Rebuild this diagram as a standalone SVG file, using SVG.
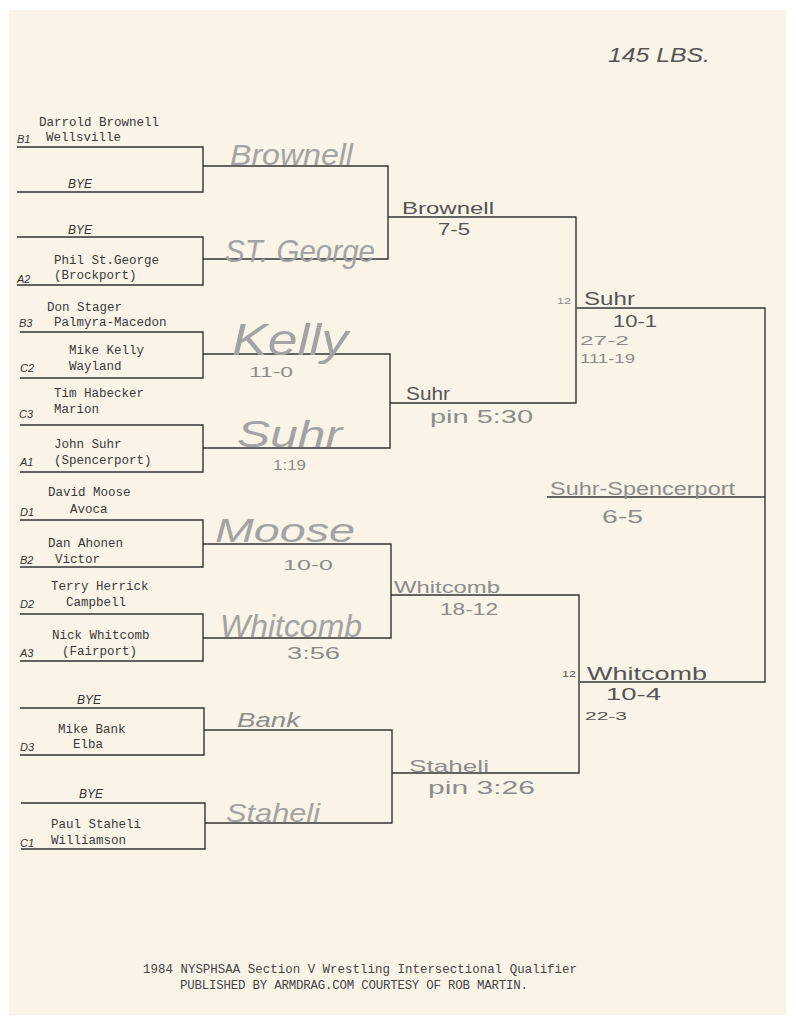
<svg xmlns="http://www.w3.org/2000/svg" width="796" height="1024" viewBox="0 0 796 1024">
<style>
.typed{font-family:"Liberation Mono","Courier New",monospace;font-size:12.5px;fill:#3a3a3a}
.seed{font-family:"Liberation Sans",Arial,sans-serif;font-style:italic;font-size:11px;fill:#333}
.bye{font-family:"Liberation Sans",Arial,sans-serif;font-style:italic;font-size:12px;fill:#333}
.hw{font-family:"Liberation Sans",Arial,sans-serif;fill:#8c8c8c}
.hwl{font-family:"Liberation Sans",Arial,sans-serif;fill:#a3a3a3;font-style:italic}
.hwd{font-family:"Liberation Sans",Arial,sans-serif;fill:#555}
.ln{stroke:#333;stroke-width:1.4;fill:none}
.foot{font-family:"Liberation Mono","Courier New",monospace;font-size:12.4px;fill:#444}
</style>
<rect width="796" height="1024" fill="#ffffff"/>
<rect x="9" y="10" width="777" height="1005" fill="#f9f4e7"/>

<g id="connectors" class="ln">
<path d="M17,147H203V192H17"/>
<path d="M17,237H203V285H17"/>
<path d="M20,332H203V378H20"/>
<path d="M20,425H203V472H20"/>
<path d="M20,520H203V567H20"/>
<path d="M20,614H203V661H20"/>
<path d="M20,708H204V755H20"/>
<path d="M21,803H205V849H21"/>
<path d="M203,166H388V259H203"/>
<path d="M203,354H390V448H203"/>
<path d="M203,544H391V638H203"/>
<path d="M204,730H392V823H205"/>
<path d="M388,217H576V403H390"/>
<path d="M391,595H579V773H392"/>
<path d="M577,308H765V682H580"/>
<path d="M547,497H765"/>
</g>

<g id="weight"><text x="608" y="62" class="hwd" font-size="20" font-style="italic" textLength="102" lengthAdjust="spacingAndGlyphs">145 LBS.</text></g>

<g id="w-b1"><text x="39" y="126" class="typed">Darrold Brownell</text><text x="46" y="141" class="typed">Wellsville</text><text x="17" y="143" class="seed">B1</text></g>
<g id="w-bye1"><text x="68" y="188" class="bye">BYE</text></g>
<g id="w-bye2"><text x="68" y="234" class="bye">BYE</text></g>
<g id="w-a2"><text x="54" y="264" class="typed">Phil St.George</text><text x="54" y="279" class="typed">(Brockport)</text><text x="17" y="283" class="seed">A2</text></g>
<g id="w-b3"><text x="47" y="311" class="typed">Don Stager</text><text x="54" y="326" class="typed">Palmyra-Macedon</text><text x="19" y="327" class="seed">B3</text></g>
<g id="w-c2"><text x="69" y="354" class="typed">Mike Kelly</text><text x="69" y="370" class="typed">Wayland</text><text x="20" y="372" class="seed">C2</text></g>
<g id="w-c3"><text x="54" y="397" class="typed">Tim Habecker</text><text x="54" y="413" class="typed">Marion</text><text x="19" y="418" class="seed">C3</text></g>
<g id="w-a1"><text x="54" y="448" class="typed">John Suhr</text><text x="54" y="464" class="typed">(Spencerport)</text><text x="20" y="466" class="seed">A1</text></g>
<g id="w-d1"><text x="48" y="496" class="typed">David Moose</text><text x="70" y="513" class="typed">Avoca</text><text x="20" y="516" class="seed">D1</text></g>
<g id="w-b2"><text x="48" y="547" class="typed">Dan Ahonen</text><text x="55" y="563" class="typed">Victor</text><text x="20" y="564" class="seed">B2</text></g>
<g id="w-d2"><text x="51" y="590" class="typed">Terry Herrick</text><text x="66" y="606" class="typed">Campbell</text><text x="20" y="608" class="seed">D2</text></g>
<g id="w-a3"><text x="52" y="639" class="typed">Nick Whitcomb</text><text x="62" y="655" class="typed">(Fairport)</text><text x="20" y="657" class="seed">A3</text></g>
<g id="w-bye3"><text x="77" y="704" class="bye">BYE</text></g>
<g id="w-d3"><text x="58" y="733" class="typed">Mike Bank</text><text x="73" y="748" class="typed">Elba</text><text x="20" y="751" class="seed">D3</text></g>
<g id="w-bye4"><text x="79" y="798" class="bye">BYE</text></g>
<g id="w-c1"><text x="51" y="828" class="typed">Paul Staheli</text><text x="51" y="844" class="typed">Williamson</text><text x="20" y="847" class="seed">C1</text></g>

<g id="r2-brownell"><text x="230" y="165" class="hwl" font-size="29" textLength="123" lengthAdjust="spacingAndGlyphs">Brownell</text></g>
<g id="r2-stgeorge"><text x="225" y="262" class="hwl" font-size="32" textLength="150" lengthAdjust="spacingAndGlyphs">ST. George</text></g>
<g id="r2-kelly"><text x="232" y="355" class="hwl" font-size="44" textLength="116" lengthAdjust="spacingAndGlyphs">Kelly</text><text x="249" y="377" class="hw" font-size="14" textLength="44" lengthAdjust="spacingAndGlyphs">11-0</text></g>
<g id="r2-suhr"><text x="237" y="447" class="hwl" font-size="36" textLength="105" lengthAdjust="spacingAndGlyphs">Suhr</text><text x="273" y="470" class="hw" font-size="14" textLength="33" lengthAdjust="spacingAndGlyphs">1:19</text></g>
<g id="r2-moose"><text x="215" y="542" class="hwl" font-size="34" textLength="140" lengthAdjust="spacingAndGlyphs">Moose</text><text x="283" y="570" class="hw" font-size="15" textLength="50" lengthAdjust="spacingAndGlyphs">10-0</text></g>
<g id="r2-whitcomb"><text x="220" y="637" class="hwl" font-size="32" textLength="142" lengthAdjust="spacingAndGlyphs">Whitcomb</text><text x="287" y="659" class="hw" font-size="17" textLength="53" lengthAdjust="spacingAndGlyphs">3:56</text></g>
<g id="r2-bank"><text x="237" y="727" class="hw" font-size="21" font-style="italic" textLength="63" lengthAdjust="spacingAndGlyphs">Bank</text></g>
<g id="r2-staheli"><text x="226" y="822" class="hwl" font-size="26" textLength="94" lengthAdjust="spacingAndGlyphs">Staheli</text></g>

<g id="r3-brownell"><text x="402" y="214" class="hwd" font-size="17" textLength="92" lengthAdjust="spacingAndGlyphs">Brownell</text><text x="438" y="235" class="hwd" font-size="16" textLength="32" lengthAdjust="spacingAndGlyphs">7-5</text></g>
<g id="r3-suhr"><text x="406" y="400" class="hwd" font-size="18" textLength="44" lengthAdjust="spacingAndGlyphs">Suhr</text><text x="430" y="423" class="hw" font-size="18" textLength="103" lengthAdjust="spacingAndGlyphs">pin 5:30</text></g>
<g id="r3-whitcomb"><text x="394" y="593" class="hw" font-size="17" textLength="106" lengthAdjust="spacingAndGlyphs">Whitcomb</text><text x="440" y="615" class="hw" font-size="17" textLength="58" lengthAdjust="spacingAndGlyphs">18-12</text></g>
<g id="r3-staheli"><text x="409" y="772" class="hw" font-size="17" textLength="80" lengthAdjust="spacingAndGlyphs">Staheli</text><text x="428" y="794" class="hw" font-size="18" textLength="107" lengthAdjust="spacingAndGlyphs">pin 3:26</text></g>

<g id="sf-suhr"><text x="557" y="304" class="hw" font-size="9" textLength="14" lengthAdjust="spacingAndGlyphs">12</text><text x="584" y="305" class="hwd" font-size="19" textLength="51" lengthAdjust="spacingAndGlyphs">Suhr</text><text x="613" y="327" class="hwd" font-size="16" textLength="44" lengthAdjust="spacingAndGlyphs">10-1</text><text x="580" y="345" class="hw" font-size="13" textLength="49" lengthAdjust="spacingAndGlyphs">27-2</text><text x="580" y="363" class="hw" font-size="13" textLength="55" lengthAdjust="spacingAndGlyphs">111-19</text></g>
<g id="sf-whitcomb"><text x="562" y="677" class="hwd" font-size="9" textLength="14" lengthAdjust="spacingAndGlyphs">12</text><text x="587" y="680" class="hwd" font-size="19" textLength="120" lengthAdjust="spacingAndGlyphs">Whitcomb</text><text x="606" y="700" class="hwd" font-size="16" textLength="55" lengthAdjust="spacingAndGlyphs">10-4</text><text x="585" y="720" class="hwd" font-size="11" textLength="42" lengthAdjust="spacingAndGlyphs">22-3</text></g>

<g id="final"><text x="550" y="495" class="hw" font-size="18" textLength="185" lengthAdjust="spacingAndGlyphs">Suhr-Spencerport</text><text x="602" y="523" class="hw" font-size="18" textLength="41" lengthAdjust="spacingAndGlyphs">6-5</text></g>

<g id="footer"><text x="143" y="973" class="foot" textLength="434">1984 NYSPHSAA Section V Wrestling Intersectional Qualifier</text><text x="180" y="989" class="foot" textLength="348">PUBLISHED BY ARMDRAG.COM COURTESY OF ROB MARTIN.</text></g>
</svg>
